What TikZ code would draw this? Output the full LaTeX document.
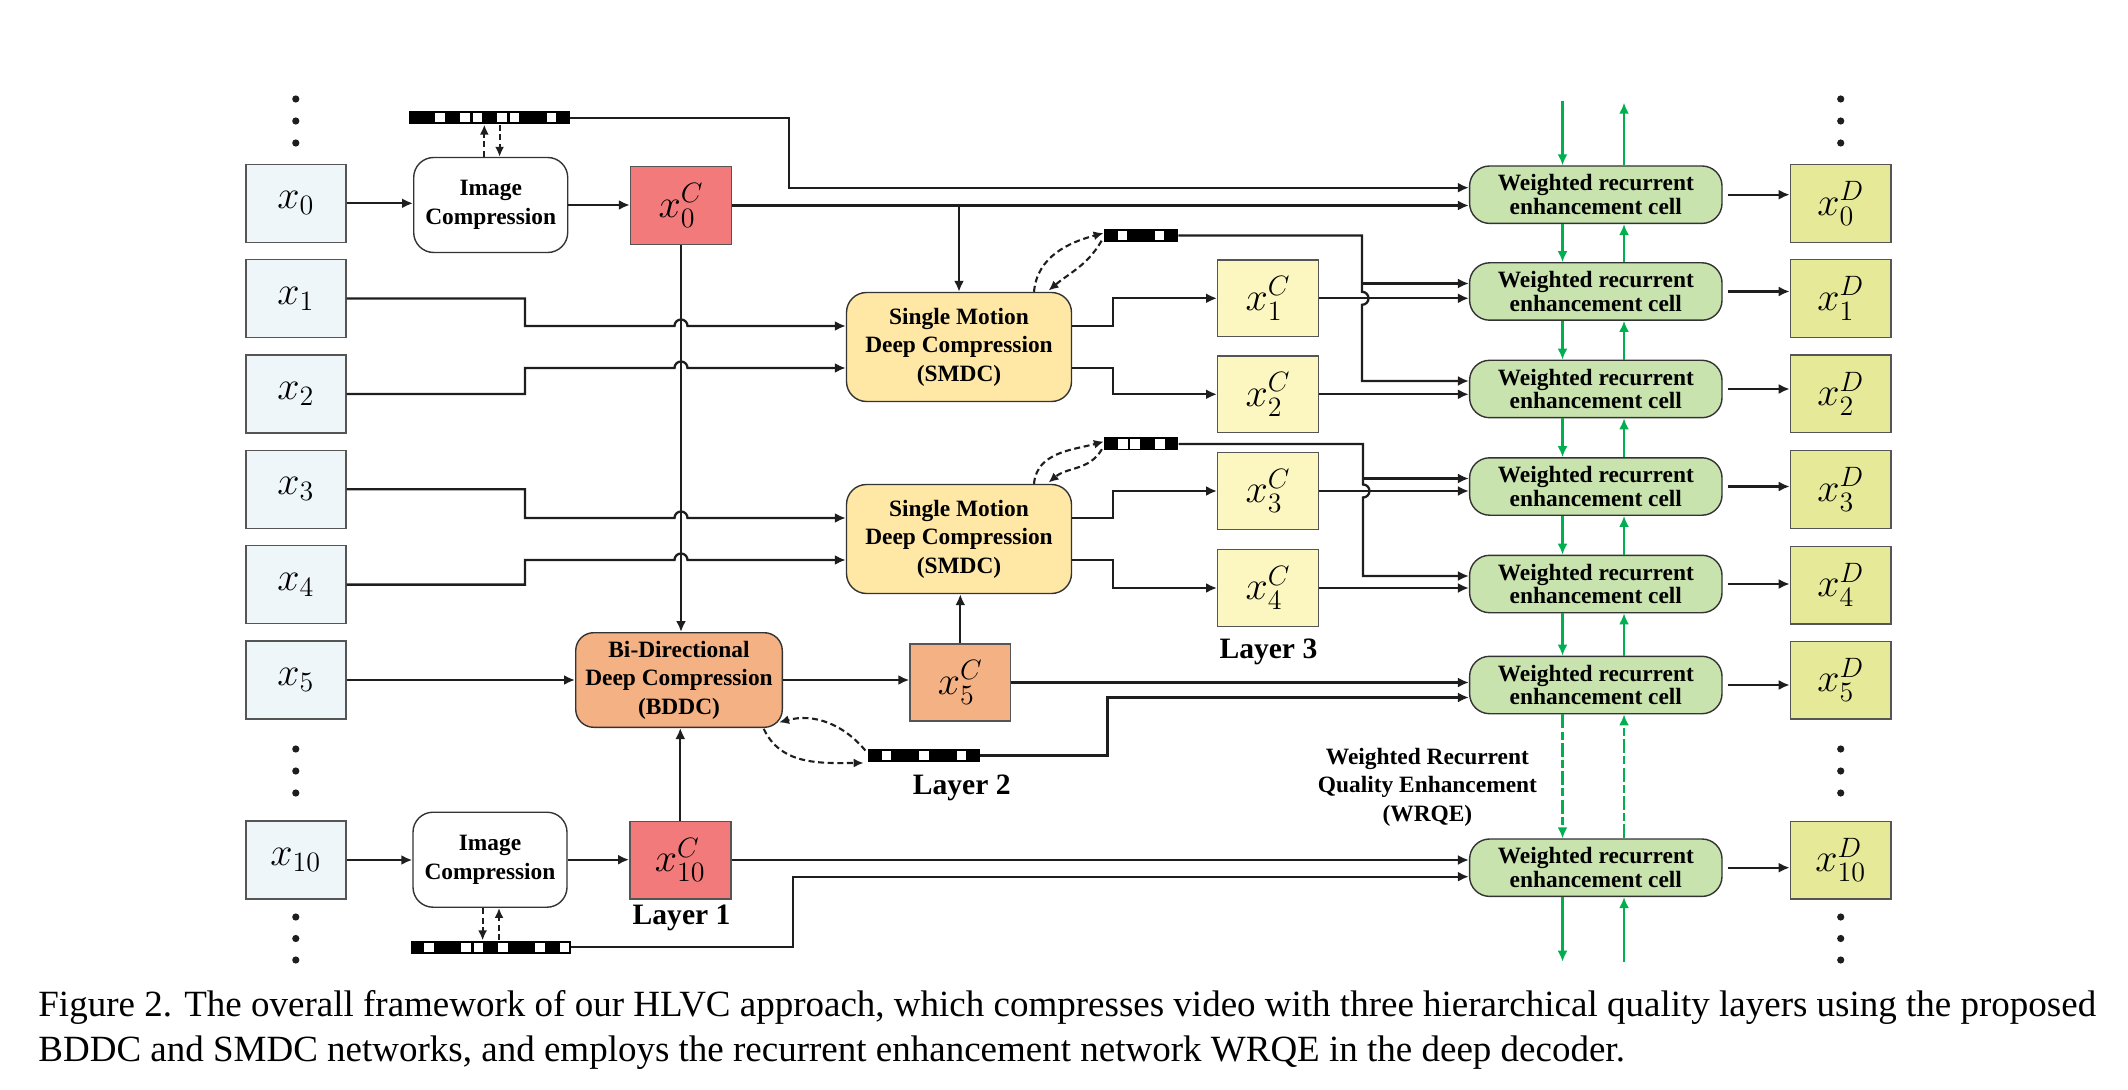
\RequirePackage{fix-cm}
\documentclass[tikz,border=0pt]{standalone}
\usepackage[no-math]{fontspec}
\setmainfont{Liberation Serif}
\usetikzlibrary{arrows.meta,calc}
\definecolor{inc}{HTML}{EEF6FA}
\definecolor{redc}{HTML}{F27A7B}
\definecolor{orc}{HTML}{F4B183}
\definecolor{smc}{HTML}{FFE8A6}
\definecolor{yelc}{HTML}{FCF7C0}
\definecolor{wrc}{HTML}{C8E3AE}
\definecolor{outc}{HTML}{E5E998}
\definecolor{grn}{HTML}{00B050}
\definecolor{linec}{HTML}{1E1E1E}
\definecolor{bordc}{HTML}{555555}
\definecolor{darkb}{HTML}{333333}
\newcommand{\mathsz}{\fontsize{20}{24}\selectfont}
\newcommand{\lblfont}{\fontsize{11.7}{14.2}\selectfont\bfseries}
\newcommand{\wfont}{\fontsize{11.7}{11.9}\selectfont\bfseries}
\newcommand{\layfont}{\fontsize{14.8}{17}\selectfont\bfseries}
\newcommand{\capfont}{\fontsize{18.5}{22}\selectfont}
% name, cx, cy, width(px), width(pt), ncells, white cells
\newcommand{\mybits}[7]{%
  \node[bitbar, minimum width=#5] (#1) at (#2,#3) {};
  \foreach \i in {#7}{\fill[white] ({#2-#4/2+\i*#4/#6+1.4},{#3-4.6}) rectangle ({#2-#4/2+(\i+1)*#4/#6-1.4},{#3+4.6});}
}
\begin{document}
\begin{tikzpicture}[x=0.5pt,y=-0.5pt,
  arr/.style={draw=linec, line width=1.15pt, -{Latex[length=5.5pt,width=5pt]}},
  darr/.style={draw=linec, line width=1.05pt, dash pattern=on 3pt off 1.8pt, -{Latex[length=5pt,width=4.5pt]}},
  garr/.style={draw=grn, line width=1.05pt, -{Latex[length=5.5pt,width=5pt]}},
  gdarr/.style={garr, dash pattern=on 7pt off 1.6pt on 4pt off 1.6pt},
  sqbox/.style={draw=bordc, line width=0.7pt, minimum width=50pt, minimum height=39pt, inner sep=0pt, font=\mathsz},
  rbox/.style={draw=darkb, line width=0.7pt, rounded corners=10pt, inner sep=0pt, align=center, font=\lblfont},
  wbox/.style={rbox, fill=wrc, minimum width=126.2pt, minimum height=28.7pt, font=\wfont},
  bitbar/.style={fill=black, minimum height=6.5pt, inner sep=0pt, draw=none}
]
\useasboundingbox (0,0) rectangle (2128,1090);

% input frames
\node[sqbox, fill=inc] (x0) at (295.8,203.3) {$x_0$};
\node[sqbox, fill=inc] (x1) at (295.8,298.5) {$x_1$};
\node[sqbox, fill=inc] (x2) at (295.8,394) {$x_2$};
\node[sqbox, fill=inc] (x3) at (295.8,489.3) {$x_3$};
\node[sqbox, fill=inc] (x4) at (295.8,584.6) {$x_4$};
\node[sqbox, fill=inc] (x5) at (295.8,680) {$x_5$};
\node[sqbox, fill=inc] (x10) at (295.8,860) {$x_{10}$};

% image compression
\node[rbox, fill=white, minimum width=77pt, minimum height=47.5pt] (imgT) at (490.7,205) {Image\\Compression};
\node[rbox, fill=white, minimum width=77pt, minimum height=47.5pt] (imgB) at (490,859.7) {Image\\Compression};
\node[sqbox, fill=redc, minimum width=50.5pt, minimum height=38.8pt] (x0C) at (681,205.5) {$x_0^C$};
\node[sqbox, fill=redc, minimum width=50.5pt, minimum height=38.8pt] (x10C) at (680.3,860) {$x_{10}^C$};
\node[font=\layfont] (lay1) at (681.6,918.3) {Layer 1};

% BDDC
\node[rbox, fill=orc, minimum width=103.3pt, minimum height=47.3pt, rounded corners=9pt] (bddc) at (679,680) {Bi-Directional\\Deep Compression\\(BDDC)};
\node[sqbox, fill=orc, minimum width=50.3pt, minimum height=38.5pt] (x5C) at (960.3,682.5) {$x_5^C$};
\node[font=\layfont] (lay2) at (961.7,788.3) {Layer 2};

% SMDC
\node[rbox, fill=smc, minimum width=112.5pt, minimum height=54.5pt] (smdc1) at (959,347) {Single Motion\\Deep Compression\\(SMDC)};
\node[rbox, fill=smc, minimum width=112.5pt, minimum height=54.5pt] (smdc2) at (959,539) {Single Motion\\Deep Compression\\(SMDC)};
\node[sqbox, fill=yelc, minimum width=50.3pt, minimum height=38.3pt] (x1C) at (1268,298.3) {$x_1^C$};
\node[sqbox, fill=yelc, minimum width=50.3pt, minimum height=38.3pt] (x2C) at (1268,394.3) {$x_2^C$};
\node[sqbox, fill=yelc, minimum width=50.3pt, minimum height=38.3pt] (x3C) at (1268,491) {$x_3^C$};
\node[sqbox, fill=yelc, minimum width=50.3pt, minimum height=38.3pt] (x4C) at (1268,588) {$x_4^C$};
\node[font=\layfont] (lay3) at (1268.4,651.7) {Layer 3};

% WRQE cells
\node[wbox] (wrec0) at (1595.8,194.7) {Weighted recurrent\\enhancement cell};
\node[wbox] (wrec1) at (1595.8,291.5) {Weighted recurrent\\enhancement cell};
\node[wbox] (wrec2) at (1595.8,389) {Weighted recurrent\\enhancement cell};
\node[wbox] (wrec3) at (1595.8,486.5) {Weighted recurrent\\enhancement cell};
\node[wbox] (wrec4) at (1595.8,584) {Weighted recurrent\\enhancement cell};
\node[wbox] (wrec5) at (1595.8,685) {Weighted recurrent\\enhancement cell};
\node[wbox] (wrec10) at (1595.8,867.7) {Weighted recurrent\\enhancement cell};
\node[font=\lblfont, align=center] (wrqe) at (1427.4,787) {Weighted Recurrent\\Quality Enhancement\\(WRQE)};

% decoded frames
\node[sqbox, fill=outc, minimum width=50.3pt, minimum height=38.8pt] (xD0) at (1840.7,203.5) {$x_0^D$};
\node[sqbox, fill=outc, minimum width=50.3pt, minimum height=38.8pt] (xD1) at (1840.7,298.5) {$x_1^D$};
\node[sqbox, fill=outc, minimum width=50.3pt, minimum height=38.8pt] (xD2) at (1840.7,394) {$x_2^D$};
\node[sqbox, fill=outc, minimum width=50.3pt, minimum height=38.8pt] (xD3) at (1840.7,489.5) {$x_3^D$};
\node[sqbox, fill=outc, minimum width=50.3pt, minimum height=38.8pt] (xD4) at (1840.7,585) {$x_4^D$};
\node[sqbox, fill=outc, minimum width=50.3pt, minimum height=38.8pt] (xD5) at (1840.7,680) {$x_5^D$};
\node[sqbox, fill=outc, minimum width=50.3pt, minimum height=38.8pt] (xD10) at (1840.7,860) {$x_{10}^D$};

% bitstreams
\mybits{bsT}{489.7}{117.7}{160.7}{80.35pt}{13}{2,4,5,7,8,11}
\mybits{bsB}{490.6}{947.3}{160}{80pt}{13}{1,4,5,7,10,12}
\mybits{bs1}{1141}{235.5}{74}{37pt}{6}{1,4}
\mybits{bs2}{1141.3}{444}{74}{37pt}{6}{1,2,4}
\mybits{bsL2}{923.9}{755.5}{112.3}{56.15pt}{9}{1,4,7}

% dots
\foreach \y in {99,121,143,749,771,793,917,938.5,960}{
  \fill[linec] (295.8,\y) circle (1.8pt);
  \fill[linec] (1840.7,\y) circle (1.8pt);
}

% layer 1 connections
\draw[arr] (x0.east) -- (x0.east -| imgT.west);
\draw[arr] (imgT.east) -- (imgT.east -| x0C.west);
\draw[arr] (x10.east) -- (x10.east -| imgB.west);
\draw[arr] (imgB.east) -- (imgB.east -| x10C.west);
\coordinate (t1) at ([xshift=-3.2pt]imgT.north);
\coordinate (t2) at ([xshift=4.45pt]imgT.north);
\draw[darr] (t1) -- (t1 |- bsT.south);
\draw[darr] (t2 |- bsT.south) -- (t2);
\coordinate (b1) at ([xshift=-3.7pt]imgB.south);
\coordinate (b2) at ([xshift=4.5pt]imgB.south);
\draw[darr] (b1) -- (b1 |- bsB.north);
\draw[darr] (b2 |- bsB.north) -- (b2);

\draw[arr] (x0C.south) -- (x0C.south |- bddc.north);
\draw[arr] (x10C.north) -- (x10C.north |- bddc.south);
\draw[arr] (x0C.east) -- (x0C.east -| wrec0.west);
\draw[arr] (x0C.east -| smdc1.north) -- (smdc1.north);
\draw[arr] (bsT.east) -- (789,117.7) |- ([yshift=3.5pt]wrec0.west);
\draw[arr] (x10C.east) -- (x10C.east -| wrec10.west);
\draw[arr] (bsB.east) -- (793.3,947.3) |- ([yshift=-4.5pt]wrec10.west);

% inputs to SMDC with bridges
\draw[arr] (x1.east) -| (525,326) -- (674.5,326) arc[start angle=180,end angle=0,radius=3.25pt] -- ([yshift=10.5pt]smdc1.west);
\draw[arr] (x2.east) -| (525,368) -- (674.5,368) arc[start angle=180,end angle=0,radius=3.25pt] -- ([yshift=-10.5pt]smdc1.west);
\draw[arr] (x3.east) -| (525,518) -- (674.5,518) arc[start angle=180,end angle=0,radius=3.25pt] -- ([yshift=10.5pt]smdc2.west);
\draw[arr] (x4.east) -| (525,560) -- (674.5,560) arc[start angle=180,end angle=0,radius=3.25pt] -- ([yshift=-10.5pt]smdc2.west);
\draw[arr] (x5.east) -- (x5.east -| bddc.west);

% BDDC
\draw[arr] (bddc.east) -- (bddc.east -| x5C.west);
\draw[arr] (x5C.north) -- (x5C.north |- smdc2.south);
\draw[arr] (x5C.east) -- (x5C.east -| wrec5.west);
\draw[arr] (bsL2.east) -- (1107.6,755.5) |- ([yshift=-6.25pt]wrec5.west);
\draw[darr] ([shift={(-1pt,2.5pt)}]bsL2.west) to[out=130,in=15] ([shift={(-2pt,2.8pt)}]bddc.south east);
\draw[darr] ([shift={(-9.65pt,-0.4pt)}]bddc.south east) to[out=-65,in=180] ([shift={(-1.85pt,-3.75pt)}]bsL2.west);

% SMDC outputs
\draw[arr] ([yshift=10.5pt]smdc1.east) -- ++(20.5pt,0) |- (x1C.west);
\draw[arr] ([yshift=-10.5pt]smdc1.east) -- ++(20.5pt,0) |- (x2C.west);
\draw[arr] ([yshift=10.5pt]smdc2.east) -- ++(20.5pt,0) |- (x3C.west);
\draw[arr] ([yshift=-10.5pt]smdc2.east) -- ++(20.5pt,0) |- (x4C.west);
\draw[darr] ([xshift=37.5pt]smdc1.north) to[out=85,in=195] ([yshift=1.2pt]bs1.west);
\draw[darr] ([shift={(-1pt,-2.6pt)}]bs1.west) to[out=240,in=40] ([xshift=44.75pt,yshift=0.6pt]smdc1.north);
\draw[darr] ([xshift=37.5pt]smdc2.north) to[out=85,in=195] ([yshift=1.2pt]bs2.west);
\draw[darr] ([shift={(-1pt,-2.6pt)}]bs2.west) to[out=240,in=40] ([xshift=44.75pt,yshift=0.6pt]smdc2.north);

% layer 3 to WRQE
\draw[arr] (x1C.east) -- (x1C.east -| wrec1.west);
\draw[arr] (x2C.east) -- (x2C.east -| wrec2.west);
\draw[arr] (x3C.east) -- (x3C.east -| wrec3.west);
\draw[arr] (x4C.east) -- (x4C.east -| wrec4.west);
\coordinate (j1) at (1362,0);
\coordinate (j2) at (1363,0);
\coordinate (k1) at ([yshift=3.25pt]x1C.east);
\coordinate (k3) at ([yshift=3.25pt]x3C.east);
\coordinate (w1u) at ([yshift=4pt]wrec1.west);
\coordinate (w2u) at ([yshift=4pt]wrec2.west);
\coordinate (w3u) at ([yshift=4pt]wrec3.west);
\coordinate (w4u) at ([yshift=4pt]wrec4.west);
\draw[arr] (bs1.east) -- (bs1.east -| j1) -- (k1 -| j1) arc[start angle=90,end angle=-90,radius=3.25pt] |- (w2u);
\draw[arr] (w1u -| j1) -- (w1u);
\draw[arr] (bs2.east) -- (bs2.east -| j2) -- (k3 -| j2) arc[start angle=90,end angle=-90,radius=3.25pt] |- (w4u);
\draw[arr] (w3u -| j2) -- (w3u);

% outputs
\foreach \k in {0,1,2,3,4,5,10}{
  \draw[arr] ([xshift=2.5pt]wrec\k.east) -- (wrec\k.east -| xD\k.west);
}

% green recurrent arrows
\coordinate (gd) at (1562.5,0);
\coordinate (gu) at (1624,0);
\draw[garr] (1562.5,100.7) -- (wrec0.north -| gd);
\draw[garr] (wrec0.north -| gu) -- (1624,102.7);
\foreach \a/\b in {wrec0/wrec1,wrec1/wrec2,wrec2/wrec3,wrec3/wrec4,wrec4/wrec5}{
  \draw[garr] (\a.south -| gd) -- (\b.north -| gd);
  \draw[garr] (\b.north -| gu) -- (\a.south -| gu);
}
\draw[gdarr] (wrec5.south -| gd) -- (wrec10.north -| gd);
\draw[gdarr] (wrec10.north -| gu) -- (wrec5.south -| gu);
\draw[garr] (wrec10.south -| gd) -- (1562.5,961.7);
\draw[garr] (1624,962) -- (wrec10.south -| gu);

% caption
\node[anchor=base west, inner sep=0pt, font=\capfont] (cap1) at (38,1016.5) {Figure 2. The overall framework of our HLVC approach, which compresses video with three hierarchical quality layers using the proposed};
\node[anchor=base west, inner sep=0pt, font=\capfont] (cap2) at (38,1061.5) {BDDC and SMDC networks, and employs the recurrent enhancement network WRQE in the deep decoder.};
\end{tikzpicture}
\end{document}
